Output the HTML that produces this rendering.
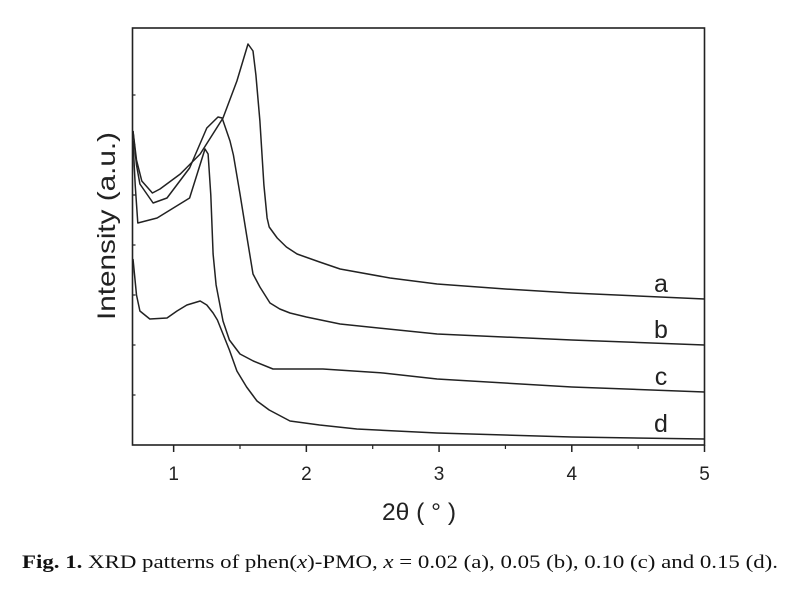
<!DOCTYPE html>
<html><head><meta charset="utf-8"><style>
body{margin:0;background:#fff}
svg{display:block}
</style></head><body>
<svg id="chart" width="800" height="603" viewBox="0 0 800 603" xmlns="http://www.w3.org/2000/svg">
<g id="plot"></g>
<text transform="translate(115,226) rotate(-90)" text-anchor="middle" textLength="188" lengthAdjust="spacingAndGlyphs" font-family="Liberation Sans, sans-serif" font-size="25" fill="#222">Intensity (a.u.)</text>
<text x="382" y="520" textLength="74" lengthAdjust="spacingAndGlyphs" font-family="Liberation Sans, sans-serif" font-size="24" fill="#222">2θ ( ° )</text>
<text x="22" y="568" textLength="756" lengthAdjust="spacingAndGlyphs" font-family="Liberation Serif, serif" font-size="19" fill="#111"><tspan font-weight="bold">Fig. 1.</tspan> XRD patterns of phen(<tspan font-style="italic">x</tspan>)-PMO, <tspan font-style="italic">x</tspan> = 0.02 (a), 0.05 (b), 0.10 (c) and 0.15 (d).</text>
</svg>
<script>
const seriesNames = ['a','b','c','d'];
const xA = [0.694,0.72,0.76,0.84,0.897,1.05,1.2,1.372,1.477,1.56,1.598,1.62,1.65,1.68,1.704,1.72,1.78,1.85,1.93,2.1,2.254,2.63,2.985,3.5,4,5];
const yA = [314,285,264,252,256,271,291,327,364,401,394,370,324,260,227,218,207,198,191,183,176,167,161,156,152,146];
const xB = [0.694,0.72,0.746,0.845,0.95,1.12,1.25,1.334,1.365,1.425,1.45,1.5,1.55,1.598,1.65,1.726,1.8,1.877,2.0,2.254,2.985,4,5];
const yB = [314,280,261,242,247,277,317,328,327,304,290,251,210,171,158,142,136,132,128,121,111,105,100];
const xC = [0.694,0.71,0.73,0.875,1.12,1.236,1.26,1.28,1.297,1.32,1.372,1.42,1.5,1.6,1.749,2.125,2.578,2.985,4,5];
const yC = [304,260,222,227,247,296,291,250,191,160,124,105,91,84,76,76,72,66,58,53];
const xD = [0.694,0.72,0.746,0.82,0.95,1.025,1.1,1.2,1.25,1.297,1.33,1.372,1.42,1.477,1.55,1.628,1.72,1.877,2.1,2.38,2.985,4,5];
const yD = [186,150,134,126,127,134,140,144,140,132,125,111,95,74,58,44,35,24,20,16,12,8,6];
const xTicks = [1,2,3,4,5];
const xMinor = [1.5,2.5,3.5,4.5];
const yTickVals = [50,100,150,200,250,300,350];

const L=132.5,R=704.5,T=28,B=445;
const X0=0.69,X1=5,Y0=0,Y1=417;
const sx=v=>L+(v-X0)/(X1-X0)*(R-L);
const sy=v=>B-(v-Y0)/(Y1-Y0)*(B-T);
const NS='http://www.w3.org/2000/svg';
const g=document.getElementById('plot');
function mk(tag,attrs){const e=document.createElementNS(NS,tag);for(const k in attrs)e.setAttribute(k,attrs[k]);g.appendChild(e);return e;}

const frame=mk('rect',{x:L,y:T,width:R-L,height:B-T,fill:'none',stroke:'#222','stroke-width':1.6});



xTicks.forEach(v=>{
  const t=mk('line',{x1:sx(v),x2:sx(v),y1:B,y2:B+7,stroke:'#222','stroke-width':1.5});
  
  
  const lb=mk('text',{x:sx(v),y:B+35,'text-anchor':'middle','font-family':'Liberation Sans, sans-serif','font-size':19,fill:'#222'});
  lb.textContent=v;
  
  
});
xMinor.forEach(v=>{
  const t=mk('line',{x1:sx(v),x2:sx(v),y1:B,y2:B+4,stroke:'#222','stroke-width':1.2});
  
  
});
yTickVals.forEach(v=>{
  const t=mk('line',{x1:L,x2:L+3,y1:sy(v),y2:sy(v),stroke:'#222','stroke-width':1.2});
  
  
});

const series=[[xA,yA],[xB,yB],[xC,yC],[xD,yD]];
series.forEach((s,i)=>{
  const d=s[0].map((x,j)=>(j?'L':'M')+sx(x).toFixed(1)+','+sy(s[1][j]).toFixed(1)).join('');
  const p=mk('path',{d:d,fill:'none',stroke:'#222','stroke-width':1.5,'stroke-linejoin':'round'});
  
  
  const last=s[1][s[1].length-1];
  const lb=mk('text',{x:661,y:sy(last)-7,'text-anchor':'middle','font-family':'Liberation Sans, sans-serif','font-size':25,fill:'#222'});
  lb.textContent=seriesNames[i];
  
  
});
</script>
</body></html>
